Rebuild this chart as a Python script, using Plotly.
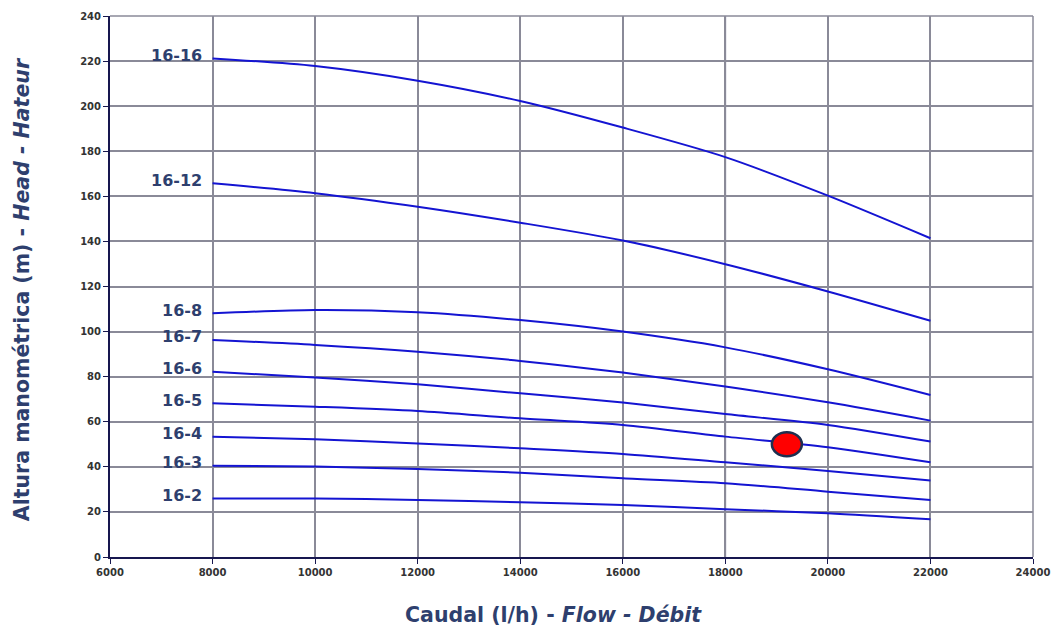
import plotly.graph_objects as go

# Flow rates (l/h) at which each pump curve is sampled
flow = [8000, 10000, 12000, 14000, 16000, 18000, 20000, 22000]

# Head (m) for each pump model
head_16_16 = [221.2, 217.8, 211.3, 202.3, 190.5, 177.4, 160.3, 141.4]
head_16_12 = [165.8, 161.4, 155.4, 148.3, 140.4, 129.9, 117.8, 104.8]
head_16_8 = [108.1, 109.6, 108.6, 105.1, 100.0, 93.0, 83.3, 71.9]
head_16_7 = [96.3, 94.1, 91.1, 87.0, 81.8, 75.6, 68.6, 60.5]
head_16_6 = [82.2, 79.6, 76.6, 72.6, 68.5, 63.4, 58.6, 51.2]
head_16_5 = [68.2, 66.7, 64.8, 61.5, 58.6, 53.4, 48.7, 42.0]
head_16_4 = [53.4, 52.2, 50.4, 48.2, 45.7, 42.0, 38.2, 33.9]
head_16_3 = [40.5, 40.1, 39.0, 37.4, 34.9, 32.7, 29.0, 25.3]
head_16_2 = [26.0, 26.0, 25.3, 24.3, 23.1, 21.2, 19.4, 16.7]

model_names = ["16-16", "16-12", "16-8", "16-7", "16-6", "16-5", "16-4", "16-3", "16-2"]
model_heads = [head_16_16, head_16_12, head_16_8, head_16_7, head_16_6,
               head_16_5, head_16_4, head_16_3, head_16_2]

# Duty point
duty_flow = 19200
duty_head = 50

# Axis ticks and emphasised grid lines
x_ticks = [6000, 8000, 10000, 12000, 14000, 16000, 18000, 20000, 22000, 24000]
y_ticks = list(range(0, 241, 20))
strong_x_grid = [14000, 18000]
strong_y_grid = [180]

x_title = "Caudal (l/h) - <i>Flow - Débit</i>"
y_title = "Altura manométrica (m) - <i>Head - Hateur</i>"

CURVE = "#1414d2"
LABEL = "#2e3f6e"
GRID = "#8a8a98"
DARK = "#17174f"

fig = go.Figure()

for name, heads in zip(model_names, model_heads):
    fig.add_trace(go.Scatter(
        x=flow, y=heads, mode="lines", name=name,
        line=dict(color=CURVE, width=2, shape="spline", smoothing=0.8),
        showlegend=False, hoverinfo="x+y+name",
    ))
    fig.add_annotation(
        x=flow[0], y=heads[0], text=name, showarrow=False,
        xanchor="right", yanchor="middle", xshift=-9, yshift=3,
        font=dict(family="DejaVu Sans", size=16, color=LABEL, weight="bold"),
    )

# Darker reference grid lines
for xv in strong_x_grid:
    fig.add_shape(type="line", xref="x", yref="paper", x0=xv, x1=xv, y0=0, y1=1,
                  line=dict(color=DARK, width=1.5), layer="between")
for yv in strong_y_grid:
    fig.add_shape(type="line", xref="paper", yref="y", x0=0, x1=1, y0=yv, y1=yv,
                  line=dict(color=DARK, width=1.5), layer="between")

# Operating point marker (ellipse sized in pixels)
fig.add_shape(
    type="circle", xref="x", yref="y",
    xsizemode="pixel", ysizemode="pixel",
    xanchor=duty_flow, yanchor=duty_head,
    x0=-15, x1=15, y0=-12, y1=12,
    fillcolor="#ff0000", line=dict(color="#1f2f4f", width=2.5), layer="above",
)

tick_font = dict(family="DejaVu Sans", size=10, color="#333333", weight="bold")
title_font = dict(family="DejaVu Sans", size=20.5, color=LABEL, weight="bold")

# Axis titles placed as annotations for precise positioning
fig.add_annotation(xref="paper", yref="paper", x=0.481, y=0, yshift=-58,
                   text=x_title, showarrow=False, font=title_font,
                   xanchor="center", yanchor="middle")
fig.add_annotation(xref="paper", yref="paper", x=0, y=0.495, xshift=-88,
                   text=y_title, showarrow=False, font=title_font, textangle=-90,
                   xanchor="center", yanchor="middle")

fig.update_layout(
    width=1054, height=627,
    margin=dict(l=110, r=21, t=16, b=70),
    paper_bgcolor="white", plot_bgcolor="white",
    xaxis=dict(
        range=[6000, 24000], tickvals=x_ticks, ticktext=[str(v) for v in x_ticks],
        showgrid=True, gridcolor=GRID, gridwidth=1.5,
        showline=True, linecolor=DARK, linewidth=2, mirror=False,
        ticks="outside", ticklen=5, tickcolor=DARK, tickfont=tick_font,
        zeroline=False, automargin=False,
    ),
    yaxis=dict(
        range=[0, 240], tickvals=y_ticks,
        showgrid=True, gridcolor=GRID, gridwidth=1.5,
        showline=True, linecolor=DARK, linewidth=2, mirror=False,
        ticks="outside", ticklen=5, tickcolor=DARK, tickfont=tick_font,
        zeroline=False, automargin=False,
    ),
)

# Grey frame on the top and right edges
fig.add_shape(type="line", xref="paper", yref="paper", x0=0, x1=1, y0=1, y1=1,
              line=dict(color=GRID, width=1.5), layer="between")
fig.add_shape(type="line", xref="paper", yref="paper", x0=1, x1=1, y0=0, y1=1,
              line=dict(color=GRID, width=1.5), layer="between")

fig.write_html("out.html")
